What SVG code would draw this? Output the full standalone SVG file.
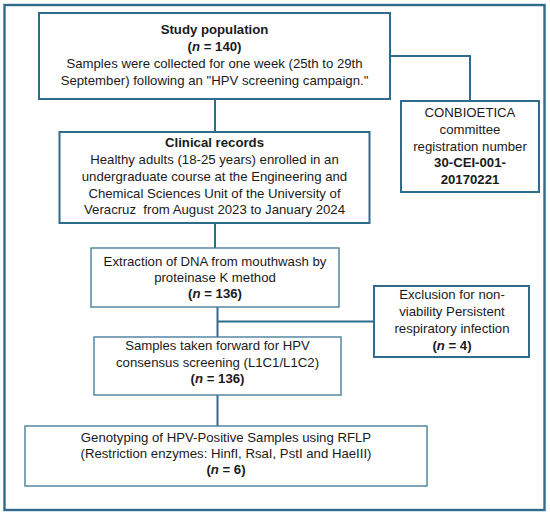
<svg xmlns="http://www.w3.org/2000/svg" width="550" height="517" viewBox="0 0 550 517">
<style>
.box{fill:#ffffff;stroke:#2f6b8b;stroke-width:2}
.lt{stroke:#4a7f9c;stroke-width:1.4}
.t{font-family:"Liberation Sans",Arial,sans-serif;font-size:13.2px;fill:#1a1a1a;text-anchor:middle}
.b{font-weight:bold}
.c{fill:none;stroke:#2f6b8b;stroke-width:2}
</style>
<rect x="0" y="0" width="550" height="517" fill="#ffffff"/>
<rect id="frame" x="4.5" y="5" width="540" height="505" fill="none" stroke="#2f6b8b" stroke-width="2.4"/>
<g id="connectors">
<path class="c" d="M390 56 H470 V101"/>
<path class="c" d="M215 99 V132"/>
<path class="c" d="M215 223 V248"/>
<path class="c" d="M217.5 307 V337"/>
<path class="c" d="M217.5 321.5 H374"/>
<path class="c" d="M217.5 395 V426"/>
</g>
<g id="study">
<rect class="box" x="39" y="13" width="351" height="86"/>
<text class="t b" x="214.5" y="34">Study population</text>
<text class="t b" x="214.5" y="51">(<tspan font-style="italic">n</tspan> = 140)</text>
<text class="t" x="214.5" y="68">Samples were collected for one week (25th to 29th</text>
<text class="t" x="214.5" y="85">September) following an "HPV screening campaign."</text>
</g>
<g id="conbioetica">
<rect class="box" x="401" y="101" width="138" height="91"/>
<text class="t" x="470" y="117">CONBIOETICA</text>
<text class="t" x="470" y="134">committee</text>
<text class="t" x="470" y="150.5">registration number</text>
<text class="t b" x="470" y="167">30-CEI-001-</text>
<text class="t b" x="470" y="183.5">20170221</text>
</g>
<g id="clinical">
<rect class="box" x="59.5" y="132" width="310" height="91"/>
<text class="t b" x="214.5" y="147">Clinical records</text>
<text class="t" x="214.5" y="164">Healthy adults (18-25 years) enrolled in an</text>
<text class="t" x="214.5" y="181">undergraduate course at the Engineering and</text>
<text class="t" x="214.5" y="197.5">Chemical Sciences Unit of the University of</text>
<text class="t" x="214.5" y="214">Veracruz&#160; from August 2023 to January 2024</text>
</g>
<g id="extraction">
<rect class="box lt" x="91" y="248" width="248" height="59"/>
<text class="t" x="215" y="266">Extraction of DNA from mouthwash by</text>
<text class="t" x="215" y="282">proteinase K method</text>
<text class="t b" x="215" y="298">(<tspan font-style="italic">n</tspan> = 136)</text>
</g>
<g id="exclusion">
<rect class="box" x="374" y="286" width="155" height="71"/>
<text class="t" x="452" y="299">Exclusion for non-</text>
<text class="t" x="452" y="316">viability Persistent</text>
<text class="t" x="452" y="333">respiratory infection</text>
<text class="t b" x="452" y="350">(<tspan font-style="italic">n</tspan> = 4)</text>
</g>
<g id="samples">
<rect class="box lt" x="94" y="337" width="247" height="58"/>
<text class="t" x="217.5" y="350">Samples taken forward for HPV</text>
<text class="t" x="217.5" y="366.5">consensus screening (L1C1/L1C2)</text>
<text class="t b" x="217.5" y="383">(<tspan font-style="italic">n</tspan> = 136)</text>
</g>
<g id="genotyping">
<rect class="box lt" x="25" y="426" width="402" height="60"/>
<text class="t" x="226" y="442">Genotyping of HPV-Positive Samples using RFLP</text>
<text class="t" x="226" y="458">(Restriction enzymes: HinfI, RsaI, PstI and HaeIII)</text>
<text class="t b" x="226" y="474">(<tspan font-style="italic">n</tspan> = 6)</text>
</g>
</svg>
